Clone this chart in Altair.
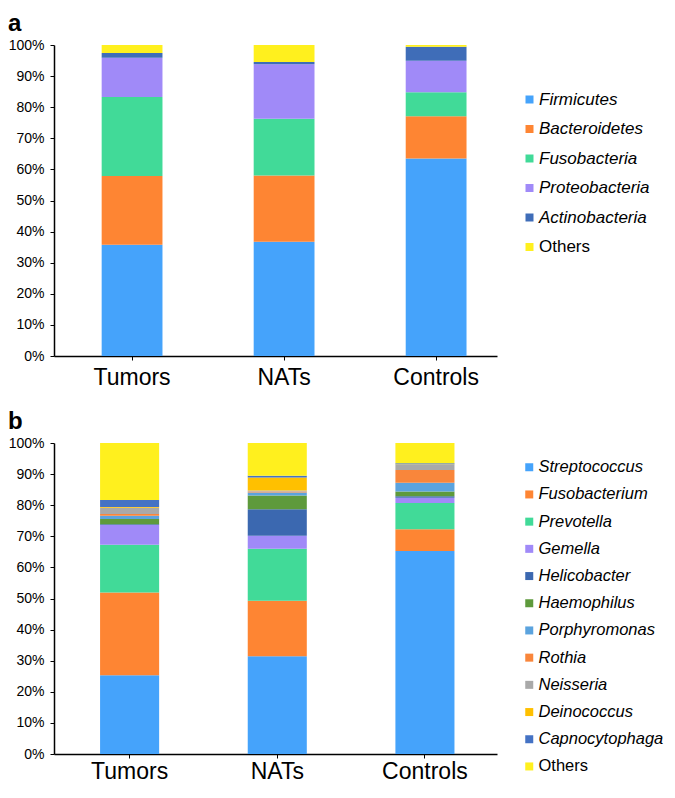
import altair as alt
import pandas as pd

groups = ["Tumors", "NATs", "Controls"]

# Panel a: phylum level (% relative abundance)
phyla = ["Firmicutes", "Bacteroidetes", "Fusobacteria", "Proteobacteria", "Actinobacteria", "Others"]
phyla_colors = ["#45A3FB", "#FE8533", "#41DA98", "#A08AF8", "#3F6DB8", "#FFF01E"]
a_tumors = [35.8, 22.1, 25.4, 12.6, 1.5, 2.6]
a_nats = [36.7, 21.3, 18.3, 17.5, 0.7, 5.5]
a_controls = [63.5, 13.6, 7.7, 10.1, 4.5, 0.6]

# Panel b: genus level (% relative abundance)
genera = ["Streptococcus", "Fusobacterium", "Prevotella", "Gemella", "Helicobacter", "Haemophilus",
          "Porphyromonas", "Rothia", "Neisseria", "Deinococcus", "Capnocytophaga", "Others"]
genera_colors = ["#45A3FB", "#FE8533", "#41DA98", "#A08AF8", "#3B68B0", "#5E9A3C",
                 "#5BA3DE", "#F9863B", "#A9A9A9", "#FFC000", "#4472C4", "#FFF01E"]
b_tumors = [25.3, 26.6, 15.4, 6.3, 0.3, 1.7, 1.0, 0.6, 2.0, 0.2, 2.3, 18.3]
b_nats = [31.4, 17.9, 16.7, 4.2, 8.5, 4.4, 1.0, 0.3, 0.3, 4.2, 0.6, 10.5]
b_controls = [65.3, 7.0, 8.4, 1.7, 0.5, 1.5, 2.8, 4.1, 1.8, 0.1, 0.3, 6.5]

y_ticks = list(range(0, 101, 10))

FONT = "Liberation Sans"


def long_table(taxa, series):
    rows = []
    for g, vals in zip(groups, series):
        for i, (t, v) in enumerate(zip(taxa, vals)):
            rows.append({"group": g, "taxon": t, "value": v, "idx": i})
    return pd.DataFrame(rows)


def panel(df, taxa, colors, letter, pad_outer, align, legend_y, row_pad, legend_font, label_pad):
    bars = alt.Chart(df).mark_bar().encode(
        x=alt.X("group:N", sort=groups,
                scale=alt.Scale(paddingInner=0.6, paddingOuter=pad_outer, align=align),
                axis=alt.Axis(title=None, labelAngle=0, labelFontSize=23, labelFont=FONT,
                              labelColor="black", domainColor="black", domainWidth=1.5,
                              tickColor="black", tickSize=4, labelPadding=label_pad)),
        y=alt.Y("value:Q", stack="zero",
                scale=alt.Scale(domain=[0, 100], nice=False, clamp=True),
                axis=alt.Axis(title=None, values=y_ticks, labelExpr="datum.value + '%'",
                              grid=False, labelFontSize=14, labelFont=FONT, labelColor="black",
                              domainColor="black", domainWidth=1.5, tickColor="black",
                              tickSize=4, labelPadding=6)),
        color=alt.Color("taxon:N", scale=alt.Scale(domain=taxa, range=colors),
                        legend=alt.Legend(title=None, orient="none", legendX=467, legendY=legend_y,
                                          symbolType="square", symbolSize=64, symbolStrokeWidth=0,
                                          labelFontSize=legend_font, labelFont=FONT, labelColor="black",
                                          labelOffset=1, rowPadding=row_pad, padding=0,
                                          labelFontStyle={"expr": "datum.label == 'Others' ? 'normal' : 'italic'"})),
        order=alt.Order("idx:Q", sort="ascending"),
    )
    tag = alt.Chart(pd.DataFrame({"t": [letter]})).mark_text(
        fontSize=24, fontWeight="bold", font=FONT, color="black", align="left", baseline="alphabetic"
    ).encode(text="t:N", x=alt.value(-46), y=alt.value(-14.5))
    return alt.layer(bars, tag).properties(width=443, height=311)


pa = panel(long_table(phyla, [a_tumors, a_nats, a_controls]), phyla, phyla_colors,
           "a", 0.257, 0.61, 46, 11.5, 17, 6)
pb = panel(long_table(genera, [b_tumors, b_nats, b_controls]), genera, genera_colors,
           "b", 0.3, 0.52, 16, 10.2, 16.5, 2)

chart = alt.vconcat(pa, pb, spacing=20).resolve_scale(color="independent").configure_view(
    stroke=None
).properties(padding={"left": 0, "top": 3, "right": 0, "bottom": 0})

chart.save("out.html", embed_options={"renderer": "svg", "actions": False})
